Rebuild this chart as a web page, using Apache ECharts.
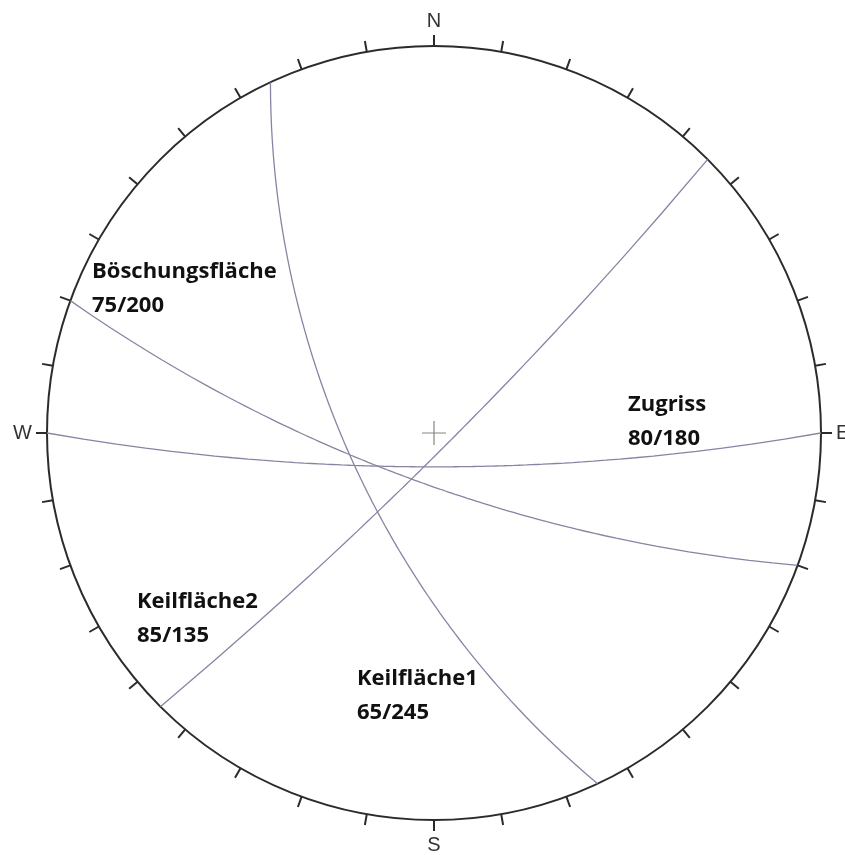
<!DOCTYPE html>
<html>
<head>
<meta charset="utf-8">
<script src="https://cdn.jsdelivr.net/npm/echarts@6/dist/echarts.min.js"></script>
<style>
html,body{margin:0;padding:0;background:#fff;}
#chart{width:845px;height:855px;}
</style>
</head>
<body>
<div id="chart"></div>
<script>
// Planes: dip / dip direction (degrees)
const planeNames = ['Böschungsfläche', 'Zugriss', 'Keilfläche2', 'Keilfläche1'];
const dips = [75, 80, 85, 65];
const dipDirs = [200, 180, 135, 245];
const compassLabels = ['N', 'E', 'S', 'W'];
const compassAngles = [0, 90, 180, 270];

// Equal-angle (Wulff) lower-hemisphere great circle, as [radius, azimuth]
function greatCircle(dip, dipDir) {
  const pts = [];
  const d2r = Math.PI / 180;
  for (let k = -90; k <= 90; k += 1) {
    const az = dipDir + k;
    const plunge = Math.atan(Math.tan(dip * d2r) * Math.cos(k * d2r));
    const r = Math.tan((Math.PI / 2 - plunge) / 2);
    pts.push([r, ((az % 360) + 360) % 360]);
  }
  return pts;
}

const chart = echarts.init(document.getElementById('chart'), null, {renderer: 'canvas'});
const series = planeNames.map((name, i) => ({
  type: 'line',
  name: name,
  coordinateSystem: 'polar',
  data: greatCircle(dips[i], dipDirs[i]),
  showSymbol: false,
  symbol: 'none',
  smooth: false,
  silent: true,
  lineStyle: {color: '#8585a3', width: 1.3},
  z: 2
}));
series.push({
  type: 'scatter',
  coordinateSystem: 'polar',
  data: [[0, 0]],
  symbol: 'path://M-0.6,-12H0.6V-0.6H12V0.6H0.6V12H-0.6V0.6H-12V-0.6H-0.6Z',
  symbolSize: 24,
  itemStyle: {color: '#666'},
  silent: true,
  z: 3
});

const labelFont = 'bold 22px "Open Sans"';
function txt(x, y, s) {
  return {type: 'text', left: x, top: y, style: {text: s, font: labelFont, fill: '#111', lineHeight: 34}};
}

chart.setOption({
  backgroundColor: '#fff',
  animation: false,
  polar: {center: [434, 433], radius: 387},
  angleAxis: {
    type: 'value', min: 0, max: 360, interval: 10, startAngle: 90, clockwise: true,
    axisLine: {show: true, lineStyle: {color: '#2b2b2b', width: 2}},
    axisTick: {show: true, inside: false, length: 11, lineStyle: {color: '#2b2b2b', width: 2}},
    axisLabel: {
      show: true, margin: 15, color: '#333', fontSize: 20, fontFamily: 'Liberation Sans',
      formatter: function (v) {
        const idx = compassAngles.indexOf(v);
        return idx >= 0 ? compassLabels[idx] : '';
      }
    },
    splitLine: {show: false}
  },
  radiusAxis: {
    type: 'value', min: 0, max: 1, show: false,
    axisLine: {show: false}, axisTick: {show: false}, axisLabel: {show: false}, splitLine: {show: false}
  },
  series: series,
  graphic: [
    txt(92, 255, planeNames[0] + '\n' + dips[0] + '/' + dipDirs[0]),
    txt(628, 388, planeNames[1] + '\n' + dips[1] + '/' + dipDirs[1]),
    txt(137, 585, planeNames[2] + '\n' + dips[2] + '/' + dipDirs[2]),
    txt(357, 662, planeNames[3] + '\n' + dips[3] + '/' + dipDirs[3])
  ]
});
</script>
</body>
</html>
